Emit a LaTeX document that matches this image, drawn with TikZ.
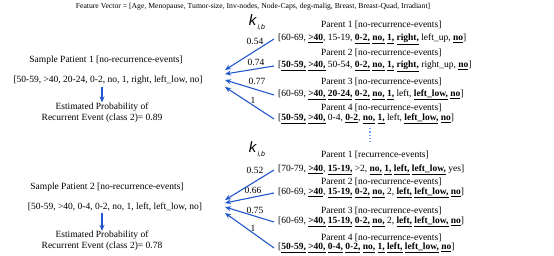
\documentclass[tikz,border=0pt]{standalone}
\usepackage{fontspec}
\setmainfont{Liberation Serif}
\newfontfamily\kfont{Liberation Sans}
\usetikzlibrary{arrows.meta}
\definecolor{arrowblue}{RGB}{34,88,204}
\definecolor{dotblue}{RGB}{110,170,235}
\newcommand{\bu}[1]{\underline{\textbf{#1}}}
\newcommand{\kib}{{\kfont\fontsize{15}{15}\selectfont\itshape k}\raisebox{-4pt}{\kfont\fontsize{7}{7}\selectfont\itshape\,i,b}}
\begin{document}
\begin{tikzpicture}[x=1pt,y=-1pt,
 txt/.style={inner sep=0pt, font=\fontsize{9.5}{11}\selectfont},
 row/.style={txt, anchor=west, inner xsep=4pt},
 plabel/.style={txt, anchor=west},
 est/.style={txt, align=center},
 arr/.style={draw=arrowblue, line width=1.1pt, -{Stealth[length=6pt,width=5pt]}},
 dots/.style={draw=dotblue, line width=1.3pt, dotted},
]
\useasboundingbox (0,0) rectangle (554,256);

\node[txt, font=\fontsize{7.7}{9}\selectfont] (fv) at (253,7) {Feature Vector = [Age, Menopause, Tumor-size, Inv-nodes, Node-Caps, deg-malig, Breast, Breast-Quad, Irradiant]};

% ---------- block 1 ----------
\node[txt] (k1) at (257,23) {\kib};
\node[plabel] (p11) at (321,25) {Parent 1 [no-recurrence-events]};
\node[row] (r11) at (274,39) {[60-69, \bu{>40}, 15-19, \bu{0-2,} \bu{no,} \bu{1,} \bu{right,} left\_up, \bu{no}]};
\node[plabel] (p12) at (321,53) {Parent 2 [no-recurrence-events]};
\node[row] (r12) at (274,66) {[\bu{50-59,} \bu{>40,} 50-54, \bu{0-2,} \bu{no,} \bu{1,} \bu{right,} right\_up, \bu{no}]};
\node[plabel] (p13) at (321,82) {Parent 3 [no-recurrence-events]};
\node[row] (r13) at (274,95) {[60-69, \bu{>40,} \bu{20-24,} \bu{0-2,} \bu{no,} \bu{1,} left, \bu{left\_low,} \bu{no}]};
\node[plabel] (p14) at (321,108) {Parent 4 [no-recurrence-events]};
\node[row] (r14) at (274,119) {[\bu{50-59,} \bu{>40,} 0-4, \bu{0-2}, \bu{no,} \bu{1,} left, \bu{left\_low,} \bu{no}]};

\node[txt] (w11) at (255,41) {0.54};
\node[txt] (w12) at (256,62) {0.74};
\node[txt] (w13) at (257,81) {0.77};
\node[txt] (w14) at (253,100) {1};

\node[txt] (s1) at (106,60) {Sample Patient 1 [no-recurrence-events]};
\node[txt] (v1) at (108,80) {[50-59, >40, 20-24, 0-2, no, 1, right, left\_low, no]};
\node[est] (e1) at (102,112.5) {Estimated Probability of\\Recurrent Event (class 2)= 0.89};

\coordinate (t11) at (225,70);
\coordinate (t12) at (225,74);
\coordinate (t13) at (225,80);
\coordinate (t14) at (225,87);
\draw[arr] (r11.west) -- (t11);
\draw[arr] (r12.west) -- (t12);
\draw[arr] (r13.west) -- (t13);
\draw[arr] (r14.west) -- (t14);
\draw[arr, shorten <=2pt] (e1.north |- v1.south) -- (e1.north);

\coordinate (d1) at (370,128);
\coordinate (d2) at (370,142);
\draw[dots] (d1) -- (d2);

% ---------- block 2 ----------
\node[txt] (k2) at (257,150) {\kib};
\node[plabel] (p21) at (321,155) {Parent 1 [recurrence-events]};
\node[row] (r21) at (274,170) {[70-79, \bu{>40}, \bu{15-19,} >2, \bu{no,} \bu{1,} \bu{left,} \bu{left\_low,} yes]};
\node[plabel] (p22) at (321,182) {Parent 2 [no-recurrence-events]};
\node[row] (r22) at (274,193) {[60-69, \bu{>40}, \bu{15-19,} \bu{0-2,} \bu{no,} 2, \bu{left,} \bu{left\_low,} \bu{no}]};
\node[plabel] (p23) at (321,211) {Parent 3 [no-recurrence-events]};
\node[row] (r23) at (274,222) {[60-69, \bu{>40,} \bu{15-19,} \bu{0-2,} \bu{no,} 2, \bu{left,} \bu{left\_low,} \bu{no}]};
\node[plabel] (p24) at (321,238) {Parent 4 [no-recurrence-events]};
\node[row] (r24) at (274,248) {[\bu{50-59,} \bu{>40,} \bu{0-4,} \bu{0-2,} \bu{no,} \bu{1,} \bu{left,} \bu{left\_low,} \bu{no}]};

\node[txt] (w21) at (255,170) {0.52};
\node[txt] (w22) at (253,190) {0.66};
\node[txt] (w23) at (255,210) {0.75};
\node[txt] (w24) at (253,228) {1};

\node[txt] (s2) at (107,187) {Sample Patient 2 [no-recurrence-events]};
\node[txt] (v2) at (115,207) {[50-59, >40, 0-4, 0-2, no, 1, left, left\_low, no]};
\node[est] (e2) at (102,241) {Estimated Probability of\\Recurrent Event (class 2)= 0.78};

\coordinate (t21) at (225,200);
\coordinate (t22) at (225,203);
\coordinate (t23) at (225,207);
\coordinate (t24) at (225,213);
\draw[arr] (r21.west) -- (t21);
\draw[arr] (r22.west) -- (t22);
\draw[arr] (r23.west) -- (t23);
\draw[arr] (r24.west) -- (t24);
\draw[arr, shorten <=2pt] (e2.north |- v2.south) -- (e2.north);
\end{tikzpicture}
\end{document}
